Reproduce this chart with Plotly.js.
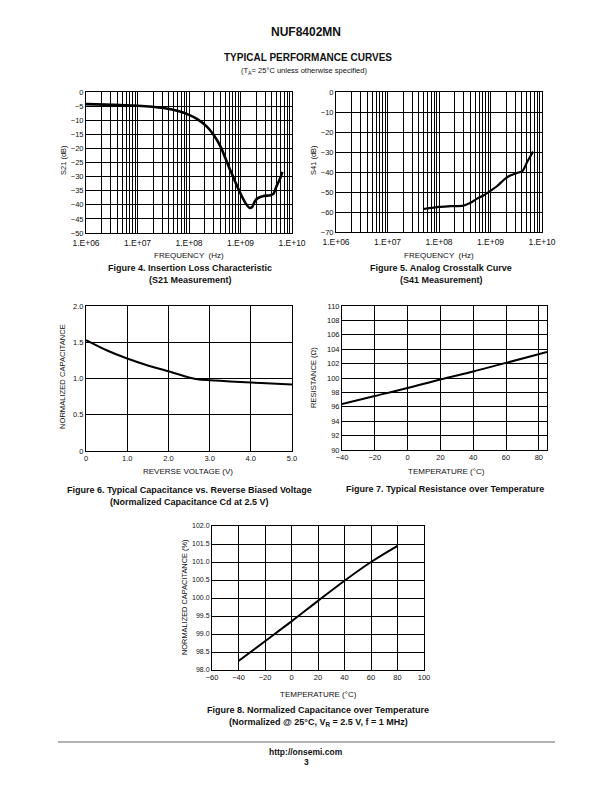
<!DOCTYPE html>
<html><head><meta charset="utf-8">
<script src="https://cdn.plot.ly/plotly-3.0.1.min.js"></script>
<style>html,body{margin:0;padding:0;background:#fff}#c{width:612px;height:792px}</style>
</head><body><div id="c"></div>
<script>
// ---- data ----
const decades = [1e6, 1e7, 1e8, 1e9, 1e10];
const decadeLabels = ['1.E+06', '1.E+07', '1.E+08', '1.E+09', '1.E+10'];
const minorDigits = [2, 3, 4, 5, 6, 7, 8, 9];

const s21Freq = [1e6, 1e7, 3.2e7, 5.9e7, 1e8, 1.45e8, 2.2e8, 3e8, 4.1e8, 5.1e8, 6.3e8, 7.9e8, 1e9, 1.26e9, 1.5e9, 1.7e9, 1.87e9, 2.1e9, 2.8e9, 3.8e9, 4.4e9, 5e9, 5.9e9, 6.5e9];
const s21dB = [-4.3, -4.9, -5.7, -6.65, -8.1, -9.6, -12.2, -15.2, -19.4, -23.5, -27.7, -31.8, -36, -39.5, -41.1, -40.7, -39, -37.8, -36.9, -36.6, -36, -33.4, -30.6, -28.3];

const s41Freq = [5e7, 1e8, 1.7e8, 3e8, 4.1e8, 5.5e8, 7.4e8, 1e9, 1.35e9, 1.8e9, 2.3e9, 3.1e9, 4.2e9, 4.5e9, 5.2e9, 6e9, 6.7e9];
const s41dB = [-58.5, -57.4, -57.1, -56.8, -55.4, -53.3, -51.6, -49.4, -47, -44, -42, -40.7, -39.4, -38.2, -34.8, -32, -29.8];

const revVolt = [0, 0.5, 1.0, 1.5, 2.0, 2.5, 2.75, 3.0, 3.5, 4.0, 4.5, 5.0];
const normCap = [1.53, 1.39, 1.275, 1.18, 1.10, 1.014, 0.986, 0.977, 0.96, 0.945, 0.93, 0.917];
const voltTicks = [0, 1, 2, 3, 4, 5];
const voltLabels = ['0', '1.0', '2.0', '3.0', '4.0', '5.0'];
const capTicks = [0, 0.5, 1.0, 1.5, 2.0];
const capLabels = ['0', '0.5', '1.0', '1.5', '2.0'];

const resTemp = [-40, -20, 0, 20, 40, 60, 85];
const resOhm = [96.4, 97.5, 98.6, 99.8, 100.9, 102.1, 103.6];

const capTemp = [-40, -20, 0, 20, 40, 60, 80];
const capPct = [98.25, 98.8, 99.35, 99.92, 100.48, 101.0, 101.45];

// ---- helpers ----
const W = 612, H = 792;
const FONT = 'Liberation Sans, Arial, Helvetica, sans-serif';
const px = x => x / W, py = y => 1 - y / H;

const minorVals = [];
decades.slice(0, -1).forEach(d => minorDigits.forEach(k => minorVals.push(k * d)));

function ax(extra, fs) {
  return Object.assign({
    showline: true, mirror: true, linecolor: '#000', linewidth: 1,
    showgrid: true, gridcolor: '#000', gridwidth: 1, zeroline: false,
    ticks: '', fixedrange: true,
    tickfont: { family: FONT, size: fs || 7.5, color: '#111' }
  }, extra);
}
function logAx(extra) {
  return ax(Object.assign({
    type: 'log', range: [6, 10], tickvals: decades, ticktext: decadeLabels, ticklabelstandoff: 2,
    minor: { tickvals: minorVals, showgrid: true, gridcolor: '#000', gridwidth: 1, ticks: '' }
  }, extra), 8.5);
}

const line = (w) => ({ color: '#000', width: w });

const traces = [
  { x: s21Freq, y: s21dB, xaxis: 'x', yaxis: 'y', mode: 'lines', line: Object.assign(line(2.6), { shape: 'spline', smoothing: 0.6 }) },
  { x: s41Freq, y: s41dB, xaxis: 'x2', yaxis: 'y2', mode: 'lines', line: Object.assign(line(2.2), { shape: 'spline', smoothing: 0.6 }) },
  { x: revVolt, y: normCap, xaxis: 'x3', yaxis: 'y3', mode: 'lines', line: Object.assign(line(2), { shape: 'spline', smoothing: 0.6 }) },
  { x: resTemp, y: resOhm, xaxis: 'x4', yaxis: 'y4', mode: 'lines', line: Object.assign(line(2), { shape: 'spline' }) },
  { x: capTemp, y: capPct, xaxis: 'x5', yaxis: 'y5', mode: 'lines', line: Object.assign(line(2), { shape: 'spline' }) }
];

function ann(text, x, y, size, opts) {
  return Object.assign({ text: text, x: px(x), y: py(y), xref: 'paper', yref: 'paper',
    xanchor: 'center', yanchor: 'middle', showarrow: false,
    font: { family: FONT, size: size, color: '#111' } }, opts || {});
}
const vert = (text, x, y, size) => ann(text, x, y, size, { textangle: -90 });

const layout = {
  width: W, height: H, margin: { l: 0, r: 0, t: 0, b: 0 },
  paper_bgcolor: '#fff', plot_bgcolor: '#fff', showlegend: false,
  xaxis: logAx({ domain: [px(86), px(292)], anchor: 'y' }),
  yaxis: ax({ range: [-50, 0], dtick: 5, tick0: 0, domain: [py(233), py(92)], anchor: 'x' }),
  xaxis2: logAx({ domain: [px(336), px(542)], anchor: 'y2' }),
  yaxis2: ax({ range: [-70, 0], dtick: 10, tick0: 0, domain: [py(232), py(92)], anchor: 'x2' }),
  xaxis3: ax({ range: [0, 5], tickvals: voltTicks, ticktext: voltLabels, domain: [px(86), px(292)], anchor: 'y3' }),
  yaxis3: ax({ range: [0, 2], tickvals: capTicks, ticktext: capLabels, domain: [py(451), py(306)], anchor: 'x3' }),
  xaxis4: ax({ range: [-40, 85], dtick: 20, tick0: -40, domain: [px(342), px(547)], anchor: 'y4' }),
  yaxis4: ax({ range: [90, 110], dtick: 2, tick0: 90, domain: [py(450), py(306)], anchor: 'x4' }),
  xaxis5: ax({ range: [-60, 100], dtick: 20, tick0: -60, domain: [px(212), px(424)], anchor: 'y5' }),
  yaxis5: ax({ range: [98, 102], dtick: 0.5, tick0: 98, tickformat: '.1f', domain: [py(670), py(526)], anchor: 'x5' }, 7),
  shapes: [
    { type: 'line', xref: 'paper', yref: 'paper', x0: px(58), x1: px(555), y0: py(742), y1: py(742), line: { color: '#999', width: 1.5 } }
  ],
  annotations: [
    ann('<b>NUF8402MN</b>', 306, 32, 12),
    ann('<b>TYPICAL PERFORMANCE CURVES</b>', 308, 57, 10),
    ann('(T<sub>A</sub>= 25°C unless otherwise specified)', 304, 71, 7.5),
    vert('S21 (dB)', 64, 160, 7.5),
    vert('S41 (dB)', 314, 160, 7.5),
    ann('FREQUENCY  (Hz)', 189, 255, 8),
    ann('FREQUENCY  (Hz)', 439, 255, 8),
    ann('<b>Figure 4. Insertion Loss Characteristic</b>', 190, 268, 9),
    ann('<b>(S21 Measurement)</b>', 190, 280, 9),
    ann('<b>Figure 5. Analog Crosstalk Curve</b>', 441, 268, 9),
    ann('<b>(S41 Measurement)</b>', 441, 280, 9),
    vert('NORMALIZED CAPACITANCE', 62, 377, 7.6),
    vert('RESISTANCE (Ω)', 313, 378, 7.6),
    ann('REVERSE VOLTAGE (V)', 188, 471, 8),
    ann('TEMPERATURE (°C)', 446, 471, 8),
    ann('<b>Figure 6. Typical Capacitance vs. Reverse Biased Voltage</b>', 189, 490, 9),
    ann('<b>(Normalized Capacitance Cd at 2.5 V)</b>', 189, 502, 9),
    ann('<b>Figure 7. Typical Resistance over Temperature</b>', 445, 489, 9),
    vert('NORMALIZED CAPACITANCE (%)', 184, 597, 7.4),
    ann('TEMPERATURE (°C)', 318, 694, 8),
    ann('<b>Figure 8. Normalized Capacitance over Temperature</b>', 318, 710, 9),
    ann('<b>(Normalized @ 25°C, V<sub>R</sub> = 2.5 V, f = 1 MHz)</b>', 318, 722, 9),
    ann('<b>http://onsemi.com</b>', 306, 752, 8.5),
    ann('<b>3</b>', 306, 762, 8.5)
  ]
};

Plotly.newPlot('c', traces, layout, { staticPlot: true, displayModeBar: false });
</script>
</body></html>
